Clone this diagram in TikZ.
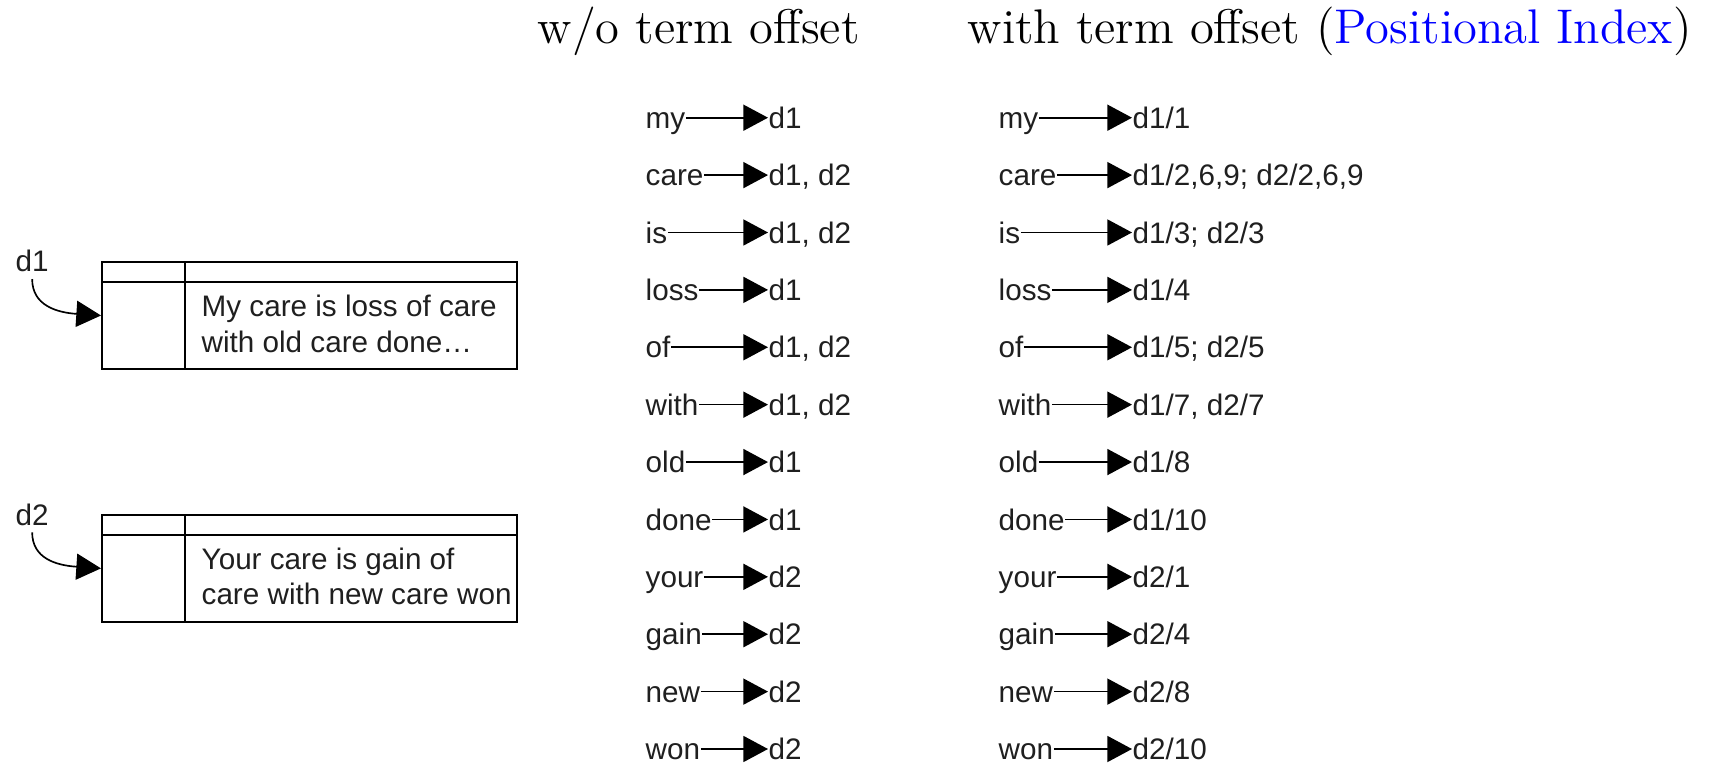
\documentclass[tikz,border=0pt]{standalone}
\usepackage{fontspec}
\newfontfamily\arialfont{Liberation Sans}
\usetikzlibrary{arrows.meta,fit}
\begin{document}
\begin{tikzpicture}[x=0.3pt,y=-0.3pt,
  sans/.style={font=\arialfont\fontsize{8.9}{10.7}\selectfont, text=black!88},
  word/.style={sans, inner sep=0pt, text height=6.4pt, text depth=0pt, anchor=west},
  arr/.style={line width=0.5pt, -{Triangle[length=7.4pt,width=7.8pt]}},
  title/.style={font=\fontsize{14.6}{17}\selectfont, inner sep=0pt, anchor=base west},
  box/.style={draw, line width=0.6pt, inner sep=0pt},
  boxline/.style={line width=0.6pt},
  doctext/.style={sans, align=left, inner sep=0pt, anchor=north west},
  lbl/.style={sans, inner xsep=0pt, inner ysep=2pt, text depth=0pt, anchor=base west}
]
\useasboundingbox (0,0) rectangle (1717,762);

% titles
\node[title] (t1) at (537,43) {w/o term offset};
\node[title] (t2) at (967,43) {with term offset (\textcolor{blue}{Positional Index})};

% document boxes
\node[box, fit={(102,261.7) (517,369.3)}] (b1) {};
\draw[boxline] (102,281.7) -- (517,281.7);
\draw[boxline] (185,261.7) -- (185,369.3);
\node[doctext] (tx1) at (201,294.5) {My care is loss of care\\with old care done…};
\node[lbl] (d1) at (15,271.7) {d1};
\draw[arr] (d1.south) .. controls +(0,26) and +(-45,-3) .. (b1.west);

\node[box, fit={(102,515) (517,621.7)}] (b2) {};
\draw[boxline] (102,535) -- (517,535);
\draw[boxline] (185,515) -- (185,621.7);
\node[doctext] (tx2) at (201,547) {Your care is gain of\\care with new care won};
\node[lbl] (d2) at (15,525) {d2};
\draw[arr] (d2.south) .. controls +(0,26) and +(-45,-3) .. (b2.west);

% index rows
\foreach \w [count=\i from 0] in {my,care,is,loss,of,with,old,done,your,gain,new,won}{
  \node[word] (L\i) at (645,{117.7+57.39*\i}) {\w};
  \node[word] (R\i) at (998,{117.7+57.39*\i}) {\w};
}
\foreach \t [count=\i from 0] in {d1,{d1, d2},{d1, d2},d1,{d1, d2},{d1, d2},d1,d1,d2,d2,d2,d2}{
  \node[word] (LT\i) at (768,{117.7+57.39*\i}) {\t};
}
\foreach \t [count=\i from 0] in {d1/1,{d1/2,6,9; d2/2,6,9},{d1/3; d2/3},d1/4,{d1/5; d2/5},{d1/7, d2/7},d1/8,d1/10,d2/1,d2/4,d2/8,d2/10}{
  \node[word] (RT\i) at (1132,{117.7+57.39*\i}) {\t};
}
\foreach \i in {0,...,11}{
  \draw[arr] (L\i.east) -- (LT\i.west);
  \draw[arr] (R\i.east) -- (RT\i.west);
}
\end{tikzpicture}
\end{document}
